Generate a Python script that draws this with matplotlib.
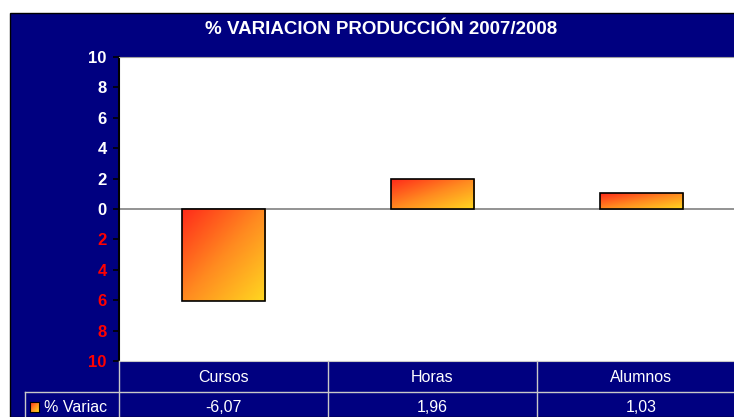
import numpy as np
import matplotlib
matplotlib.use("Agg")
import matplotlib.pyplot as plt
from matplotlib.patches import Rectangle
from matplotlib.lines import Line2D
from matplotlib.transforms import blended_transform_factory

# ── data ──
categories = ["Cursos", "Horas", "Alumnos"]
values = [-6.07, 1.96, 1.03]
value_labels = ["-6,07", "1,96", "1,03"]
series_name = "% Variac"
title = "% VARIACION PRODUCCIÓN 2007/2008"
y_ticks = [10, 8, 6, 4, 2, 0, -2, -4, -6, -8, -10]
y_tick_labels = ["10", "8", "6", "4", "2", "0", "2", "4", "6", "8", "10"]

NAVY = "#000080"
GRID = "#c8c8c8"
W, H = 734, 417


def fx(px):
    return px / W


def fy(py):
    return 1 - py / H


plt.rcParams["font.family"] = ["Liberation Sans", "DejaVu Sans"]

fig = plt.figure(figsize=(W / 100, H / 100), dpi=100)
fig.patch.set_facecolor("white")

# navy chart background
bg = Rectangle((fx(10), 0), 1.0, fy(13), transform=fig.transFigure,
               facecolor=NAVY, edgecolor="black", linewidth=1.0, zorder=-10)
fig.add_artist(bg)

fig.text(fx(381), fy(30), title, color="white", fontsize=13.5,
         fontweight="bold", ha="center", va="center")

# plot area (runs past the right edge like the original)
left, right = fx(119), fx(746)
bottom, top = fy(361), fy(57)
ax = fig.add_axes([left, bottom, right - left, top - bottom])
ax.set_facecolor("white")
ax.set_xlim(0, 3)
ax.set_ylim(-10, 10)

# ── gradient bars ──
grad_cmap = matplotlib.colors.LinearSegmentedColormap.from_list(
    "rg", ["#ff2a1a", "#ff8a20", "#ffd820"])
u = np.linspace(0, 1, 100)
gx, gy = np.meshgrid(u, u)
grad = (gx + gy) / 2

xs = np.arange(len(categories)) + 0.5
bars = ax.bar(xs, values, width=0.40, facecolor="none",
              edgecolor="black", linewidth=1.2, zorder=3)
for b in bars:
    x0, w = b.get_x(), b.get_width()
    y0, h = b.get_y(), b.get_height()
    ylo, yhi = min(y0, y0 + h), max(y0, y0 + h)
    im = ax.imshow(grad, cmap=grad_cmap, extent=[x0, x0 + w, ylo, yhi],
                   origin="upper", aspect="auto", zorder=2)
    im.set_clip_path(b)

ax.axhline(0, color="#808080", linewidth=1.2, zorder=1)

ax.set_yticks(y_ticks)
ax.set_yticklabels(y_tick_labels)
for t, v in zip(ax.get_yticklabels(), y_ticks):
    t.set_color("white" if v >= 0 else "#ff0000")
    t.set_fontweight("bold")
    t.set_fontsize(12)
ax.tick_params(axis="y", direction="out", length=4, width=1.2,
               color="black", pad=5)
ax.set_xticks([])

ax.spines["left"].set_color("black")
ax.spines["left"].set_linewidth(1.5)
ax.spines["top"].set_color("#a0a0a0")
ax.spines["bottom"].set_color(GRID)
ax.spines["right"].set_visible(False)

# ── data table below the plot ──
tr = blended_transform_factory(ax.transData, fig.transFigure)
row1_top, row2_top = fy(361), fy(392)

fig.add_artist(Line2D([fx(25), 1], [row2_top, row2_top],
                      transform=fig.transFigure, color=GRID, lw=1))
fig.add_artist(Line2D([left, left], [0, row1_top],
                      transform=fig.transFigure, color=GRID, lw=1))
fig.add_artist(Line2D([fx(25), fx(25)], [0, row2_top],
                      transform=fig.transFigure, color=GRID, lw=1))
for b in range(1, len(categories)):
    fig.add_artist(Line2D([b, b], [0, row1_top], transform=tr,
                          color=GRID, lw=1))

for x, cat, lab in zip(xs, categories, value_labels):
    fig.text(x, fy(377), cat, transform=tr, color="white", fontsize=11.5,
             ha="center", va="center")
    fig.text(x, fy(408), lab, transform=tr, color="white", fontsize=11.5,
             ha="center", va="center")

# legend key
kax = fig.add_axes([fx(30), fy(412), fx(9), fy(402) - fy(412)])
kax.imshow(grad, cmap=grad_cmap, aspect="auto")
for s in kax.spines.values():
    s.set_color("black")
    s.set_linewidth(0.8)
kax.set_xticks([])
kax.set_yticks([])
fig.text(fx(44), fy(408), series_name, color="white", fontsize=11.5,
         ha="left", va="center")

fig.savefig("out.png", dpi=100)
